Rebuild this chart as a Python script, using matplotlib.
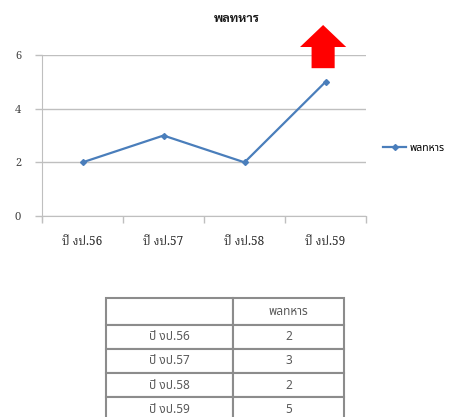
import matplotlib
matplotlib.use('Agg')
import matplotlib.pyplot as plt
from matplotlib.patches import FancyArrow

# data
years = ['ปี งป.56', 'ปี งป.57', 'ปี งป.58', 'ปี งป.59']
soldiers = [2, 3, 2, 5]
series_name = 'พลทหาร'
yticks = [0, 2, 4, 6]

serif_th = ['Noto Serif Thai', 'Taviraj', 'FreeSerif', 'DejaVu Serif']
sans_th = ['Noto Sans Thai', 'Sarabun', 'Loma', 'DejaVu Sans']
bold_th = ['Sarabun', 'Noto Sans Thai', 'DejaVu Sans']

grey = '#bfbfbf'
blue = '#4a7ebb'

fig = plt.figure(figsize=(4.59, 4.17), dpi=100)
ax = fig.add_axes([0.0915, 0.482, 0.706, 0.386])

x = list(range(len(years)))
ax.plot(x, soldiers, color=blue, lw=1.6, marker='D', ms=3, label=series_name, zorder=3)

ax.set_xlim(-0.5, len(years) - 0.5)
ax.set_ylim(0, 6)
ax.set_yticks(yticks)
ax.set_yticklabels([str(v) for v in yticks], family=serif_th, fontsize=8, color='#404040')
ax.set_xticks(x)
ax.set_xticklabels(years, family=serif_th, fontsize=8.5, color='#262626')
ax.set_xticks([i - 0.5 for i in range(len(years) + 1)], minor=True)
ax.tick_params(axis='x', which='major', length=0, pad=14)
ax.tick_params(axis='x', which='minor', length=5, color=grey, width=1)
ax.tick_params(axis='y', length=5, color=grey, width=1, pad=10)
ax.grid(axis='y', color=grey, lw=1)
ax.set_axisbelow(True)
for s in ['top', 'right']:
    ax.spines[s].set_visible(False)
ax.spines['left'].set_color(grey)
ax.spines['bottom'].set_color(grey)
ax.spines['left'].set_bounds(-0.2, 6)

fig.text(0.516, 0.955, series_name, family=bold_th, fontsize=9, fontweight='bold',
         ha='center', va='center', color='#1a1a1a')

# red up arrow over the last point
arr = FancyArrow(2.97, 5.51, 0, 1.61, width=0.285, head_width=0.57, head_length=0.82,
                 length_includes_head=True, color='#ff0000', clip_on=False, zorder=5, lw=0)
ax.add_patch(arr)

fig.legend(loc='center left', bbox_to_anchor=(0.815, 0.645), frameon=False,
           prop={'family': sans_th, 'size': 7.5}, handlelength=2.2, handletextpad=0.3)

# data table under the chart
tab_ax = fig.add_axes([0.231, -0.01, 0.518, 0.296])
tab_ax.axis('off')
cell_text = [[y, str(v)] for y, v in zip(years, soldiers)]
tbl = tab_ax.table(cellText=cell_text, colLabels=['', series_name],
                   bbox=[0, 0, 1, 1], cellLoc='center', colWidths=[0.535, 0.465])
tbl.auto_set_font_size(False)
for (r, c), cell in tbl.get_celld().items():
    cell.set_edgecolor('#8c8c8c')
    cell.set_linewidth(1.5)
    cell.set_height(0.22 if r == 0 else 0.195)
    cell.get_text().set_fontfamily(sans_th)
    cell.get_text().set_fontsize(8.5)
    cell.get_text().set_color('#595959')

fig.savefig('out.png')
